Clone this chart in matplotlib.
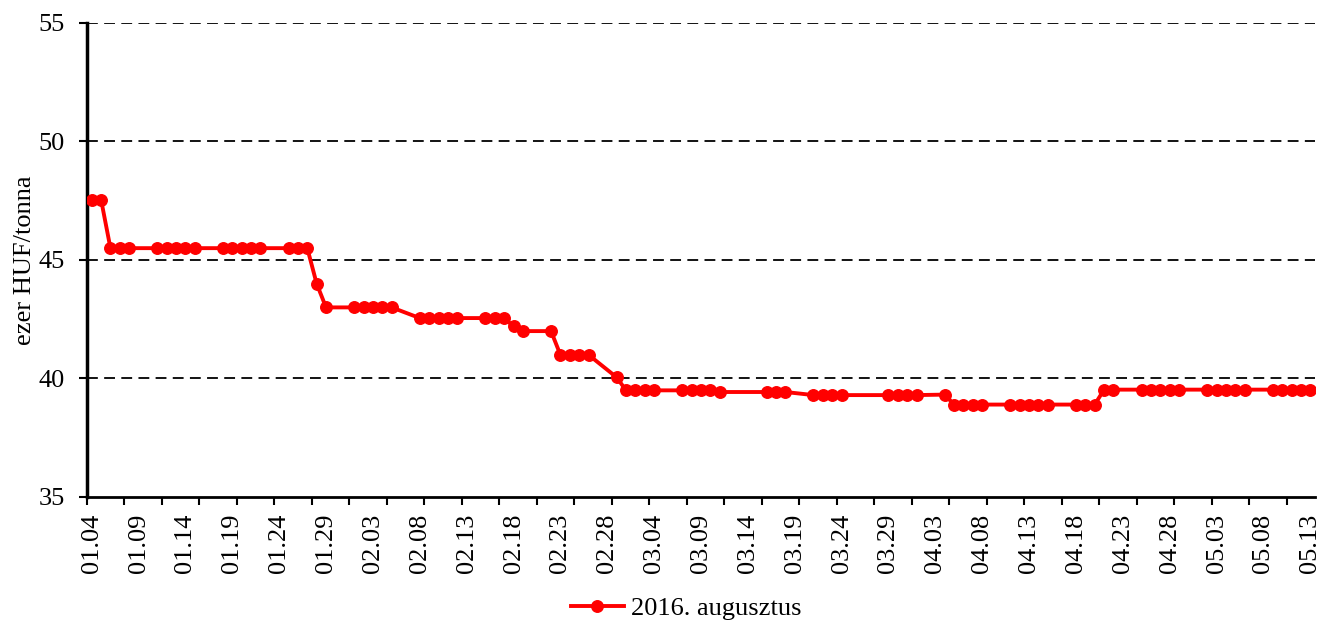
import matplotlib.pyplot as plt
import matplotlib.dates as mdates
import pandas as pd

year = 2016
days = ['01.04', '01.05', '01.06', '01.07', '01.08',
        '01.11', '01.12', '01.13', '01.14', '01.15',
        '01.18', '01.19', '01.20', '01.21', '01.22',
        '01.25', '01.26', '01.27', '01.28', '01.29',
        '02.01', '02.02', '02.03', '02.04', '02.05',
        '02.08', '02.09', '02.10', '02.11', '02.12',
        '02.15', '02.16', '02.17', '02.18', '02.19',
        '02.22', '02.23', '02.24', '02.25', '02.26',
        '02.29', '03.01', '03.02', '03.03', '03.04',
        '03.07', '03.08', '03.09', '03.10', '03.11',
        '03.16', '03.17', '03.18',
        '03.21', '03.22', '03.23', '03.24',
        '03.29', '03.30', '03.31', '04.01',
        '04.04', '04.05', '04.06', '04.07', '04.08',
        '04.11', '04.12', '04.13', '04.14', '04.15',
        '04.18', '04.19', '04.20', '04.21', '04.22',
        '04.25', '04.26', '04.27', '04.28', '04.29',
        '05.02', '05.03', '05.04', '05.05', '05.06',
        '05.09', '05.10', '05.11', '05.12', '05.13']
prices = [47.55, 47.55, 45.5, 45.5, 45.5,
          45.5, 45.5, 45.5, 45.5, 45.5,
          45.5, 45.5, 45.5, 45.5, 45.5,
          45.5, 45.5, 45.5, 44.0, 43.0,
          43.0, 43.0, 43.0, 43.0, 43.0,
          42.55, 42.55, 42.55, 42.55, 42.55,
          42.55, 42.55, 42.55, 42.2, 42.0,
          42.0, 41.0, 41.0, 41.0, 41.0,
          40.05, 39.5, 39.5, 39.5, 39.5,
          39.5, 39.5, 39.5, 39.5, 39.43,
          39.43, 39.43, 39.43,
          39.3, 39.3, 39.3, 39.3,
          39.3, 39.3, 39.3, 39.3,
          39.32, 38.9, 38.9, 38.9, 38.9,
          38.9, 38.9, 38.9, 38.9, 38.9,
          38.9, 38.9, 38.9, 39.53, 39.53,
          39.53, 39.53, 39.53, 39.53, 39.53,
          39.53, 39.53, 39.53, 39.53, 39.53,
          39.53, 39.53, 39.53, 39.53, 39.53]
series_name = '2016. augusztus'
y_label = 'ezer HUF/tonna'

plt.rcParams['font.family'] = ['Liberation Serif', 'DejaVu Serif']

dates = pd.to_datetime([f'{year}.{d}' for d in days], format='%Y.%m.%d')
start = pd.Timestamp(year, 1, 4)
end = pd.Timestamp(year, 5, 13)
half = pd.Timedelta(hours=12)

fig = plt.figure(figsize=(13.23, 6.2), dpi=100)
ax = fig.add_axes([87 / 1323, 1 - 497 / 620, (1315 - 87) / 1323, (497 - 23) / 620])

ax.plot(dates, prices, color='#ff0000', linewidth=2.8, marker='o',
        markersize=8.3, label=series_name, zorder=3)

ax.set_ylim(35, 55)
ax.set_yticks([35, 40, 45, 50, 55])
ax.set_xlim(start - half, end + half)

# labels every 5 days, tick marks every 4 days on day boundaries (Excel style)
ax.set_xticks(pd.date_range(start, end, freq='5D'))
ax.set_xticks(pd.date_range(start - half, end + half, freq='4D'), minor=True)
ax.xaxis.set_major_formatter(mdates.DateFormatter('%m.%d'))
ax.tick_params(axis='x', which='major', rotation=90, labelsize=19, length=0, pad=12)
ax.tick_params(axis='x', which='minor', direction='out', length=6, width=1.5)
ax.tick_params(axis='y', labelsize=19, direction='out', length=6, width=1.5, pad=10)
ax.set_ylabel(y_label, fontsize=19, labelpad=2)

for v in [40, 45, 50, 55]:
    ax.axhline(v, color='black', linestyle=(0, (6, 3.5)), linewidth=1.3, zorder=1)

for side in ['top', 'right']:
    ax.spines[side].set_visible(False)
ax.spines['left'].set_linewidth(2.5)
ax.spines['bottom'].set_linewidth(2)

ax.legend(loc='center', bbox_to_anchor=(0.488, -0.235), frameon=False, fontsize=19,
          handlelength=2.0, handletextpad=0.27)

fig.savefig('out.png', dpi=100)
